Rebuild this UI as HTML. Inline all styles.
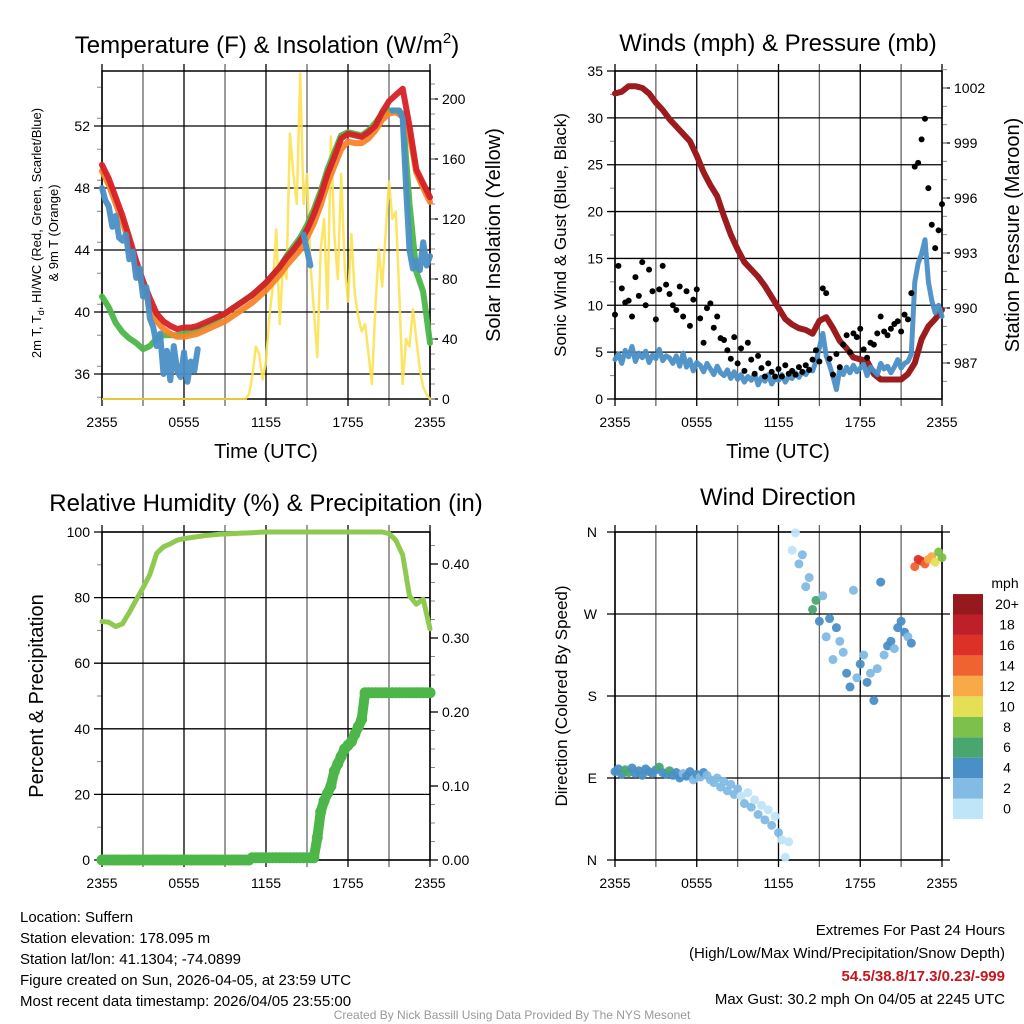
<!DOCTYPE html>
<html><head><meta charset="utf-8">
<style>
html,body{margin:0;padding:0;background:#fff;}
svg{display:block;font-family:"Liberation Sans",sans-serif;}
</style></head>
<body>
<svg id="chart" width="1024" height="1024" viewBox="0 0 1024 1024" xmlns="http://www.w3.org/2000/svg">
<rect x="0" y="0" width="1024" height="1024" fill="#fff"/>
<text x="267" y="53" font-size="24" text-anchor="middle">Temperature (F) &amp; Insolation (W/m<tspan font-size="15" dy="-10">2</tspan><tspan dy="10">)</tspan></text>
<text x="778" y="51" font-size="24" text-anchor="middle">Winds (mph) &amp; Pressure (mb)</text>
<text x="266" y="511" font-size="24" text-anchor="middle">Relative Humidity (%) &amp; Precipitation (in)</text>
<text x="778" y="505" font-size="24" text-anchor="middle">Wind Direction</text>
<text x="266" y="458" font-size="20" text-anchor="middle">Time (UTC)</text>
<text x="778" y="458" font-size="20" text-anchor="middle">Time (UTC)</text>
<text transform="translate(41,233) rotate(-90)" font-size="13" text-anchor="middle">2m T, T<tspan font-size="9" dy="3">d</tspan><tspan dy="-3">, HI/WC (Red, Green, Scarlet/Blue)</tspan></text>
<text transform="translate(58,233) rotate(-90)" font-size="13" text-anchor="middle">&amp; 9m T (Orange)</text>
<text transform="translate(500,235) rotate(-90)" font-size="20" text-anchor="middle">Solar Insolation (Yellow)</text>
<text transform="translate(566,235) rotate(-90)" font-size="17" text-anchor="middle">Sonic Wind &amp; Gust (Blue, Black)</text>
<text transform="translate(1019,235) rotate(-90)" font-size="20" text-anchor="middle">Station Pressure (Maroon)</text>
<text transform="translate(43,696) rotate(-90)" font-size="20" text-anchor="middle">Percent &amp; Precipitation</text>
<text transform="translate(567,696) rotate(-90)" font-size="17" text-anchor="middle">Direction (Colored By Speed)</text>
<text x="1005" y="588" font-size="14" text-anchor="middle">mph</text>
<g font-size="15">
<text x="20" y="922">Location: Suffern</text>
<text x="20" y="943">Station elevation: 178.095 m</text>
<text x="20" y="964">Station lat/lon: 41.1304; -74.0899</text>
<text x="20" y="985">Figure created on Sun, 2026-04-05, at 23:59 UTC</text>
<text x="20" y="1006">Most recent data timestamp: 2026/04/05 23:55:00</text>
</g>
<g font-size="15" text-anchor="end">
<text x="1005" y="935">Extremes For Past 24 Hours</text>
<text x="1005" y="958">(High/Low/Max Wind/Precipitation/Snow Depth)</text>
<text x="1005" y="981" fill="#c4161c" font-weight="bold">54.5/38.8/17.3/0.23/-999</text>
<text x="1005" y="1004">Max Gust: 30.2 mph On 04/05 at 2245 UTC</text>
</g>
<text x="512" y="1019" font-size="12" fill="#999" text-anchor="middle">Created By Nick Bassill Using Data Provided By The NYS Mesonet</text>
<g id="layer"></g>
</svg>
<script>
// ---- data ----
const timeTickLabels = ["2355","0555","1155","1755","2355"];
const timeTickHours = [0,6,12,18,24];
const tempTicks = [36,40,44,48,52];
const solarTicks = [0,40,80,120,160,200];
const windTicks = [0,5,10,15,20,25,30,35];
const pressTicks = [987,990,993,996,999,1002];
const rhTicks = [0,20,40,60,80,100];
const precipTicks = [0,0.1,0.2,0.3,0.4];
const dirTicks = [0,90,180,270,360];
const dirTickLabels = ["N","E","S","W","N"];
const legendLabels = ["0","2","4","6","8","10","12","14","16","18","20+"];
const legendColors = ["#bfe5f8","#82bbe4","#4a8fc6","#4aa66f","#7dc14a","#e5df55","#f7aa47","#ef6330","#dd3127","#bf1f28","#961a1d"];

const temp2m = [49.5,48.6,47.4,46.2,44.8,43.3,42.0,40.9,39.9,39.4,39.1,38.9,39.0,39.0,39.1,39.3,39.5,39.7,39.9,40.2,40.5,40.8,41.1,41.5,41.9,42.4,42.9,43.5,44.0,44.6,45.3,46.3,47.5,48.9,50.0,51.2,51.5,51.4,51.3,51.6,52.0,52.9,53.6,54.0,54.4,52.0,49.2,48.3,47.4];
const temp9m = [49.1,48.2,47.0,45.8,44.4,42.9,41.6,40.4,39.4,38.9,38.6,38.4,38.4,38.5,38.6,38.8,39.0,39.2,39.4,39.7,40.0,40.3,40.6,41.0,41.4,41.9,42.4,43.0,43.5,44.0,44.8,45.7,46.9,48.3,49.4,50.5,51.0,50.9,50.9,51.2,51.7,52.4,52.8,52.9,52.6,51.5,49.0,48.0,47.1];
const dewpoint = [41.0,40.3,39.3,38.7,38.3,38.0,37.6,37.8,38.3,38.5,38.5,38.5,38.6,38.7,38.9,39.1,39.3,39.6,39.9,40.2,40.5,40.8,41.1,41.5,41.9,42.4,42.9,43.6,44.2,44.8,45.6,46.6,47.8,49.2,50.3,51.4,51.6,51.5,51.4,51.7,52.2,52.8,53.0,53.0,52.8,47.0,42.6,41.3,38.0];
const windChill = [48.0,47.2,46.8,45.5,46.2,44.8,44.6,45.0,43.4,43.9,42.2,42.8,41.0,41.6,39.6,39.0,37.8,38.6,36.0,37.5,35.6,37.8,36.2,35.8,37.4,35.5,36.8,36.2,37.6,
 null,null,null,null,null,null,null,null,null,null,null,null,null,null,null,null,null,null,null,null,null,null,null,null,null,null,null,null,null,null,
 45.0,44.0,43.0,
 null,null,null,null,null,null,null,null,null,null,null,null,null,null,null,null,null,null,null,null,null,null,null,
 53.0,53.0,53.0,52.5,48.0,44.0,42.8,43.3,42.7,44.5,43.0,43.6];
const solarHours = [10.5,10.75,11,11.25,11.5,11.75,12,12.25,12.5,12.75,13,13.25,13.5,13.75,14,14.25,14.5,14.75,15,15.25,15.5,15.75,16,16.25,16.5,16.75,17,17.25,17.5,17.75,18,18.25,18.5,18.75,19,19.25,19.5,19.75,20,20.25,20.5,20.75,21,21.25,21.5,21.75,22,22.25,22.5,22.75,23,23.25,23.5,23.75,24];
const solar = [0,3,15,35,30,13,25,55,75,113,50,90,80,177,150,130,217,130,150,90,60,28,100,120,60,175,110,80,150,90,65,110,70,55,45,50,30,10,60,100,75,110,145,120,125,70,10,40,35,60,40,20,8,3,0];

const pressure = [1001.7,1001.8,1002.1,1002.1,1002.0,1001.7,1001.2,1000.8,1000.3,999.9,999.5,999.1,998.3,997.4,996.7,996.1,995.0,994.0,993.2,992.5,992.1,991.7,991.2,990.6,990.0,989.4,989.1,988.9,988.8,988.6,989.3,989.5,988.9,988.2,987.8,987.3,987.2,987.1,986.4,986.1,986.1,986.1,986.1,986.4,987.0,988.3,989.0,989.4,989.9];
const sonicWind = [4.2,4.8,3.8,5.2,4.5,5.6,4.0,4.9,4.4,5.1,3.9,4.7,4.3,5.3,4.1,4.6,
 4.4,3.8,4.6,3.5,4.9,3.4,4.2,3.0,3.9,3.6,2.9,3.8,3.2,2.6,3.5,2.8,
 2.5,3.1,2.2,2.9,2.1,2.6,1.8,2.4,2.0,2.7,1.5,2.3,1.9,2.6,1.6,2.2,
 2.0,2.6,1.8,2.4,2.2,2.8,2.3,2.9,2.6,3.2,3.0,4.0,5.5,7.0,4.6,3.6,
 2.4,1.0,3.2,2.6,3.4,2.8,3.6,2.9,3.3,3.7,2.5,3.4,3.0,2.6,3.8,3.2,
 3.5,2.8,3.4,4.2,3.3,3.8,4.0,4.8,12.5,14.5,15.5,17.0,12.5,10.5,9.2,10.0,8.8];
const gust = [9.0,14.2,11.8,10.3,10.5,8.8,13.0,11.0,14.6,10.0,13.8,11.5,8.5,11.7,14.2,12.2,
 11.2,10.0,9.5,12.0,8.8,11.5,7.8,10.6,11.7,8.6,6.0,9.7,10.2,7.6,8.8,6.5,
 6.3,5.2,4.3,6.6,3.8,5.4,3.0,6.0,4.2,2.7,4.6,3.3,2.4,3.8,2.9,2.4,
 3.2,2.4,3.6,2.7,3.0,2.6,3.4,2.9,3.6,3.1,4.2,5.2,4.0,11.8,11.3,4.3,
 2.6,4.8,3.4,5.8,6.8,5.0,7.0,6.6,7.5,5.3,4.4,6.0,5.8,7.0,8.8,7.2,
 6.8,7.5,8.0,8.3,7.2,9.0,8.5,11.3,24.8,25.2,27.7,29.9,22.5,18.6,16.1,18.0,20.8];

const relHumidity = [72.7,72.5,71.2,72.0,75.5,79.3,83,87,93.5,95.5,96.4,97.5,98.0,98.3,98.6,98.9,99.1,99.3,99.4,99.5,99.6,99.7,99.8,99.9,
 100,100,100,100,100,100,100,100,100,100,100,100,100,100,100,100,100,100,
 99.5,97.5,93,80.5,78,79.5,70.5];
const precip = [0,0,0,0,0,0,0,0,0,0,0,0,0,0,0,0,0,0,0,0,0,0,0,0,0,0,0,0,0,0,0,0,0,0,0,0,0,0,0,0,0,0,0,0,
 0.003,0.003,0.003,0.003,0.003,0.003,0.003,0.003,0.003,0.003,0.003,0.003,0.003,0.003,0.003,0.003,0.003,0.003,0.003,
 0.03,0.065,0.08,0.09,0.10,0.12,0.13,0.14,0.15,0.155,0.16,0.17,0.18,0.19,0.226,
 0.226,0.226,0.226,0.226,0.226,0.226,0.226,0.226,0.226,0.226,0.226,0.226,0.226,0.226,0.226,0.226,0.226,0.226,0.226];

const windDir = [97,100,94,99,96,101,95,98,93,100,97,95,99,102,96,94,
 98,93,96,90,95,92,97,88,94,91,96,93,
 88,85,90,80,86,76,83,72,
 78,70,62,74,58,66,50,60,44,55,38,48,
 30,22,3,20,340,359,325,335,300,310,275,285,262,290,245,265,220,255,240,228,205,190,296,200,215,225,195,205,175,210,305,225,235,240,232,255,262,250,245,238,322,330,328,325,330,333,327,338,332];
const dirSpeed = [4.5,4.8,5.2,6.5,6.8,4.6,4.2,5.0,4.4,4.9,4.3,4.7,5.1,6.3,4.6,4.5,
 6.4,4.4,4.8,4.2,3.8,4.5,4.1,3.6,4.3,3.4,4.0,3.2,
 3.5,2.8,3.9,2.6,3.2,2.4,3.6,2.2,
 2.8,1.8,3.1,1.6,2.5,1.4,2.9,1.2,2.6,1.5,3.4,1.8,
 2.5,1.6,1.8,1.2,1.5,1.0,2.6,3.2,2.8,3.4,6.5,6.2,4.4,3.0,2.4,4.6,3.3,4.2,2.7,3.8,4.4,4.8,2.6,3.1,4.6,2.8,4.0,3.5,4.3,2.9,4.8,3.7,4.2,4.4,3.8,4.1,4.6,4.5,3.9,4.2,14.5,17.2,16.5,15.0,13.5,12.5,10.5,8.5,9.0];

// ---- drawing ----
const NS = "http://www.w3.org/2000/svg";
const layer = document.getElementById("layer");
function mk(tag, attrs, parent){
  const e = document.createElementNS(NS, tag);
  for (const k in attrs) e.setAttribute(k, attrs[k]);
  (parent || layer).appendChild(e);
  return e;
}
function lin(d0,d1,r0,r1){ return v => r0 + (v-d0)/(d1-d0)*(r1-r0); }
function hoursOf(arr, step){ return arr.map((_, i) => i*step); }

function panelFrame(name, x0, x1, y0, y1, leftTicks, leftScale, leftFmt, rightTicks, rightScale, rightFmt, leftMinor, rightMinor){
  const g = mk("g", {});
  
  
  const xs = lin(0,24,x0,x1);
  for (let h = 0; h <= 24; h += 3){
    const x = xs(h);
    const l = mk("line", {x1:x, x2:x, y1:y0-7, y2:y1+7, stroke: (h%6===0)?"#000":"#666", "stroke-width":1.3}, g);
    
    
  }
  timeTickHours.forEach((h, i) => {
    const t = mk("text", {x: xs(h), y: y1+28, "font-size":14, "text-anchor":"middle"}, g);
    t.textContent = timeTickLabels[i];
    
    
  });
  leftTicks.forEach(v => {
    const y = leftScale(v);
    const l = mk("line", {x1:x0-8, x2:x1, y1:y, y2:y, stroke:"#000", "stroke-width":1.3}, g);
    
    
    const t = mk("text", {x:x0-12, y:y+5, "font-size":14, "text-anchor":"end"}, g);
    t.textContent = leftFmt(v);
    
    
  });
  leftMinor.forEach(v => {
    const y = leftScale(v);
    mk("line", {x1:x0-5, x2:x0, y1:y, y2:y, stroke:"#888", "stroke-width":1}, g);
  });
  if (rightTicks){
    rightTicks.forEach(v => {
      const y = rightScale(v);
      mk("line", {x1:x1, x2:x1+8, y1:y, y2:y, stroke:"#000", "stroke-width":1.3}, g);
      const t = mk("text", {x:x1+12, y:y+5, "font-size":14, "text-anchor":"start"}, g);
      t.textContent = rightFmt(v);
      
      
    });
    rightMinor.forEach(v => {
      const y = rightScale(v);
      mk("line", {x1:x1, x2:x1+5, y1:y, y2:y, stroke:"#888", "stroke-width":1}, g);
    });
  }
  const b = mk("rect", {x:x0, y:y0, width:x1-x0, height:y1-y0, fill:"none", stroke:"#000", "stroke-width":1.5}, g);
  
  
  return xs;
}
function pathFrom(hours, vals, xs, ys){
  let d = "", pen = false;
  vals.forEach((v, i) => {
    if (v === null){ pen = false; return; }
    d += (pen ? "L" : "M") + xs(hours[i]).toFixed(1) + "," + ys(v).toFixed(1);
    pen = true;
  });
  return d;
}
function line(name, hours, vals, xs, ys, color, w, op){
  const p = mk("path", {d: pathFrom(hours, vals, xs, ys), fill:"none", stroke:color, "stroke-width":w, "stroke-linejoin":"round", "stroke-linecap":"round", opacity: op || 1});
  
  
  return p;
}
function range(a,b,s){ const r=[]; for(let v=a; v<=b+1e-9; v+=s) r.push(+v.toFixed(3)); return r; }

// Panel 1: temperature & insolation
const tY = lin(52,36,126,374);
const sY = lin(0,200,399,99);
const x1s = panelFrame("temperature", 102, 430, 71, 399, tempTicks, tY, v=>String(v), solarTicks, sY, v=>String(v), range(34.5,55,2).filter(v=>v%4!==0 && v>=34.5), range(0,210,10));
const halfHours = hoursOf(temp2m, 0.5);
const quarterHours = hoursOf(windChill, 0.25);
line("solar-insolation-line", solarHours, solar, x1s, sY, "#fde253", 2.5, 0.9);
line("dewpoint-line", halfHours, dewpoint, x1s, tY, "#4cb648", 6, 0.95);
line("temperature-9m-line", halfHours, temp9m, x1s, tY, "#f6852a", 6, 0.95);
line("temperature-2m-line", halfHours, temp2m, x1s, tY, "#d62027", 6, 0.95);
line("wind-chill-line", quarterHours, windChill, x1s, tY, "#4a8fc6", 6, 0.95);
mk("line", {x1:102, x2:247, y1:399, y2:399, stroke:"#e8c83a", "stroke-width":2});

// Panel 2: winds & pressure
const wY = lin(0,35,399,71);
const pY = lin(1002,987,88,363);
const x2s = panelFrame("winds", 615, 942, 71, 399, windTicks, wY, v=>String(v), pressTicks, pY, v=>String(v), range(2.5,32.5,5), range(986,1003,1));
line("pressure-line", halfHours, pressure, x2s, pY, "#9b1b1f", 6);
line("sonic-wind-line", quarterHours, sonicWind, x2s, wY, "#4a8fc6", 5, 0.95);
gust.forEach((v, i) => {
  const c = mk("circle", {cx: x2s(quarterHours[i]), cy: wY(v), r: 3, fill:"#000"});
  
  
});

// Panel 3: RH & precipitation
const rY = lin(0,100,860,532);
const prY = lin(0,0.1,860,786);
const x3s = panelFrame("humidity", 102, 430, 532, 860, rhTicks, rY, v=>String(v), precipTicks, prY, v=>v.toFixed(2), range(10,90,20), range(0.025,0.44,0.025).filter(v=>Math.round(v*1000)%100!==0));
line("relative-humidity-line", halfHours, relHumidity, x3s, rY, "#8fc94f", 5);
line("precipitation-line", quarterHours, precip, x3s, prY, "#4cb648", 10);
precip.forEach((v, i) => {
  const c = mk("circle", {cx: x3s(quarterHours[i]), cy: prY(v), r: 5.5, fill:"#4cb648"});
  
  
});

// Panel 4: wind direction
const dY = lin(0,360,860,532);
const x4s = panelFrame("direction", 615, 942, 532, 860, [], dY, v=>"", null, null, null, [], []);
dirTicks.forEach((v, i) => {
  const y = dY(v);
  mk("line", {x1:607, x2:950, y1:y, y2:y, stroke:"#000", "stroke-width":1.3});
  const t = mk("text", {x:597, y:y+5, "font-size":14, "text-anchor":"end"});
  t.textContent = dirTickLabels[i];
  
  
});
function speedColor(s){ return legendColors[Math.min(10, Math.floor(s/2))]; }
windDir.forEach((v, i) => {
  const c = mk("circle", {cx: x4s(quarterHours[i]), cy: dY(v), r: 4.5, fill: speedColor(dirSpeed[i]), opacity:0.95});
  
  
});
// legend
legendColors.forEach((col, i) => {
  const y = 819 - (i+1)*20.45;
  const r = mk("rect", {x:953, y:y, width:30, height:20.45, fill:col});
  
  
  const t = mk("text", {x:1007, y:y+15, "font-size":14, "text-anchor":"middle"});
  t.textContent = legendLabels[i];
  
  
});
</script>
</body></html>
